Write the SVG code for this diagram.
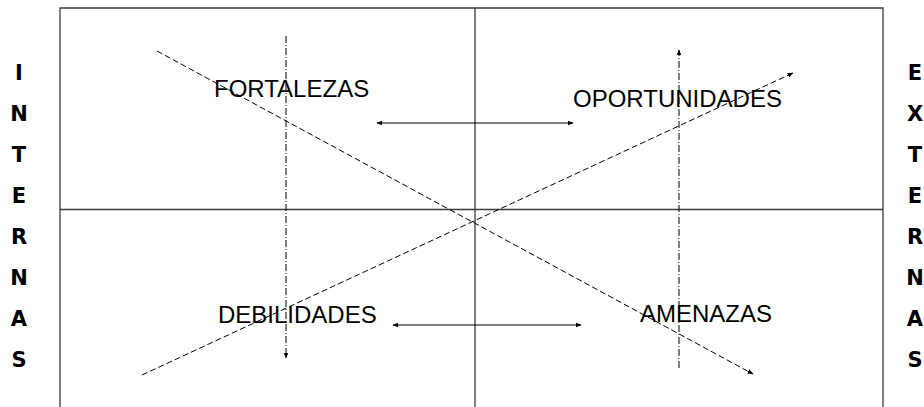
<svg xmlns="http://www.w3.org/2000/svg" width="924" height="407" viewBox="0 0 924 407">
<style>
.frame{stroke:#3a3a3a;stroke-width:1.3;fill:none}
.lbl{font-family:"Liberation Sans",Arial,sans-serif;font-size:24px;fill:#000}
.side{font-family:"DejaVu Sans",Verdana,sans-serif;font-weight:bold;font-size:21px;fill:#000;text-anchor:middle}
.dash{stroke:#000;stroke-width:1;fill:none;stroke-dasharray:6 3}
.dashdot{stroke:#000;stroke-width:1;fill:none;stroke-dasharray:7 2 1 2}
.solid{stroke:#000;stroke-width:1.2;fill:none}
</style>
<defs>
<marker id="ah" viewBox="0 0 10 10" refX="9" refY="5" markerWidth="6" markerHeight="6" orient="auto-start-reverse" markerUnits="userSpaceOnUse">
<path d="M0,1 L10,5 L0,9 Z" fill="#000"/>
</marker>
</defs>
<rect width="924" height="407" fill="#fff"/>
<g id="frame">
<path class="frame" d="M60,420 V8 H883 V420"/>
<line class="frame" x1="60" y1="209.5" x2="883" y2="209.5"/>
<line class="frame" x1="475" y1="8" x2="475" y2="420"/>
</g>
<g id="connectors">
<line class="dash" x1="157" y1="51" x2="753" y2="374" marker-end="url(#ah)"/>
<line class="dash" x1="142" y1="375" x2="793" y2="73" marker-end="url(#ah)"/>
<line class="dashdot" x1="286" y1="36" x2="286" y2="358" marker-end="url(#ah)"/>
<line class="dashdot" x1="679" y1="368" x2="679" y2="50" marker-end="url(#ah)"/>
<line class="solid" x1="377" y1="123" x2="573" y2="123" marker-start="url(#ah)" marker-end="url(#ah)"/>
<line class="solid" x1="393" y1="325" x2="581" y2="325" marker-start="url(#ah)" marker-end="url(#ah)"/>
</g>
<g id="fortalezas"><text class="lbl" x="214" y="97">FORTALEZAS</text></g>
<g id="oportunidades"><text class="lbl" x="573" y="107">OPORTUNIDADES</text></g>
<g id="debilidades"><text class="lbl" x="218" y="323">DEBILIDADES</text></g>
<g id="amenazas"><text class="lbl" x="640" y="322">AMENAZAS</text></g>
<g id="internas">
<text class="side" x="19" y="80">I</text>
<text class="side" x="19" y="121">N</text>
<text class="side" x="19" y="162">T</text>
<text class="side" x="19" y="203">E</text>
<text class="side" x="19" y="244">R</text>
<text class="side" x="19" y="285">N</text>
<text class="side" x="19" y="326">A</text>
<text class="side" x="19" y="367">S</text>
</g>
<g id="externas">
<text class="side" x="915" y="80">E</text>
<text class="side" x="915" y="121">X</text>
<text class="side" x="915" y="162">T</text>
<text class="side" x="915" y="203">E</text>
<text class="side" x="915" y="244">R</text>
<text class="side" x="915" y="285">N</text>
<text class="side" x="915" y="326">A</text>
<text class="side" x="915" y="367">S</text>
</g>
</svg>
